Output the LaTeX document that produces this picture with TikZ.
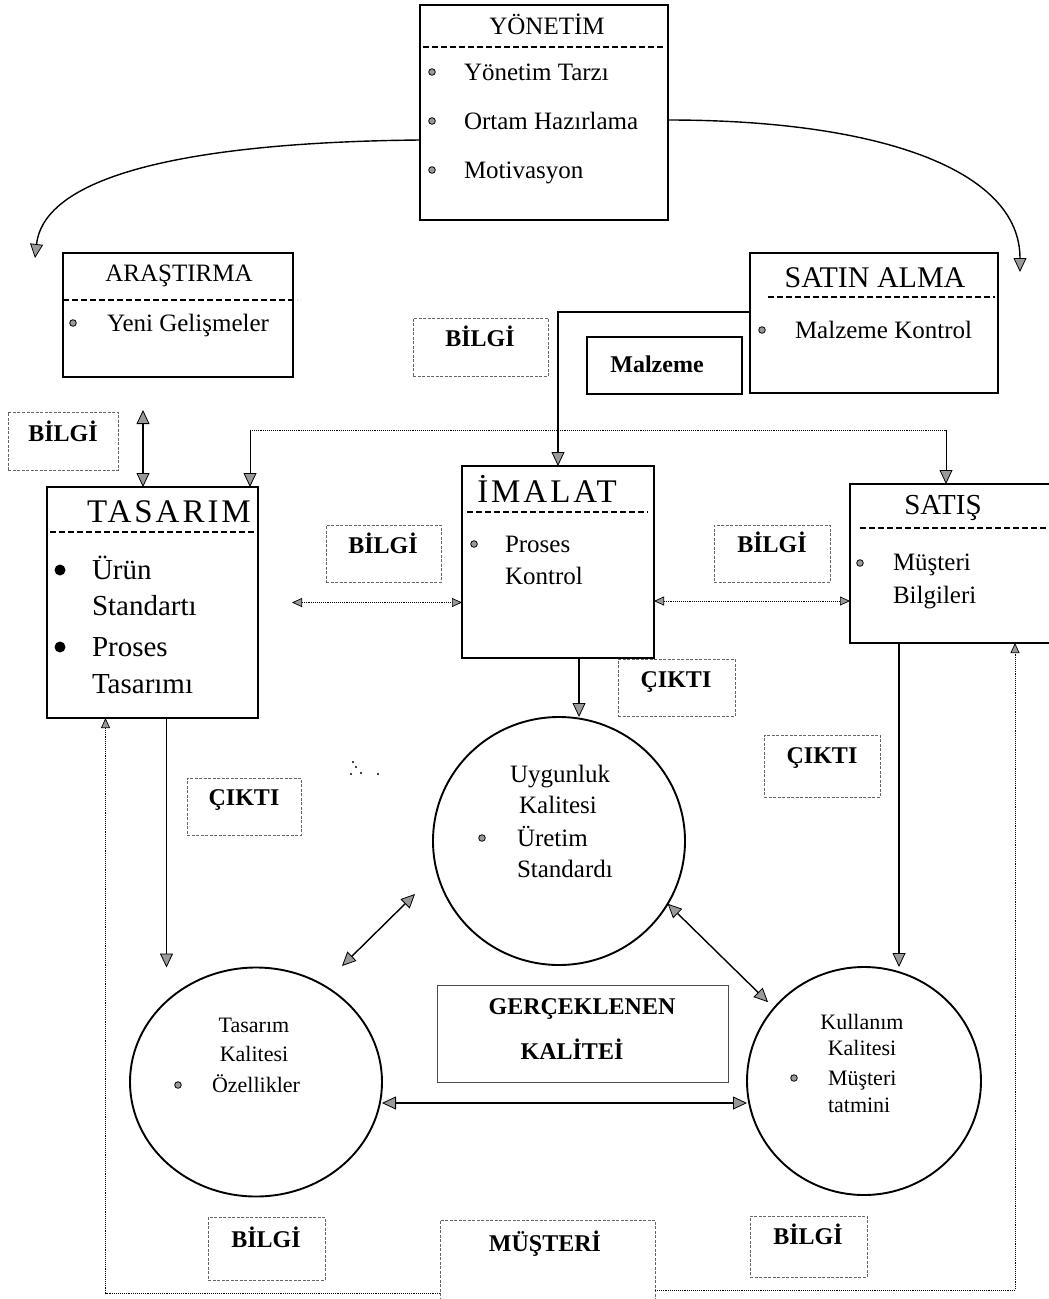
\documentclass[tikz,border=0pt]{standalone}
\usepackage{fontspec}
\setmainfont{Liberation Serif}
\newfontfamily\wideserif[LetterSpace=9]{Liberation Serif}
\usetikzlibrary{arrows.meta,shapes.geometric,calc}

\tikzset{
  unitbox/.style={draw, line width=2pt, inner sep=0pt, outer sep=0pt},
  labelbox/.style={draw=black!60, dash pattern=on 3pt off 1.5pt, line width=0.8pt, inner sep=0pt, outer sep=0pt},
  plainbox/.style={draw=black!70, line width=0.9pt, inner sep=0pt, outer sep=0pt},
  quality/.style={ellipse, draw, line width=1.9pt, inner sep=0pt, outer sep=0pt},
  sep/.style={line width=1.3pt, dash pattern=on 6pt off 3pt},
  bigtip/.tip={Triangle[length=14pt,width=13pt,fill=black!40,line width=0.8pt]},
  smalltip/.tip={Triangle[length=10pt,width=9pt,fill=black!40,line width=0.7pt]},
  flow/.style={line width=1.4pt, -bigtip},
  flowboth/.style={line width=1.4pt, bigtip-bigtip},
  infoline/.style={line width=0.9pt, densely dotted},
  infoboth/.style={line width=0.9pt, densely dotted, smalltip-smalltip},
  txt/.style={inner sep=0pt, outer sep=0pt},
  ttl/.style={txt, anchor=base},
  itm/.style={txt, anchor=base west},
  f22/.style={font=\fontsize{22}{22}\selectfont},
  f25/.style={font=\fontsize{25}{25}\selectfont},
  f29/.style={font=\fontsize{29}{29}\selectfont},
  f30/.style={font=\fontsize{30}{30}\selectfont},
  wide/.style={font=\wideserif\fontsize{33}{33}\selectfont},
  lab/.style={txt, anchor=base, font=\fontsize{24}{24}\selectfont\bfseries},
}

\begin{document}
\begin{tikzpicture}[x=1pt, y=-1pt]
\useasboundingbox (0,0) rectangle (1049,1299);
\fill[white] (0,0) rectangle (1049,1299);
\clip (0,0) rectangle (1049,1299);

% ---------- unit boxes ----------
\node[unitbox, minimum width=248pt, minimum height=215pt] (yon) at (544,112.5) {};
\node[unitbox, minimum width=230pt, minimum height=124pt] (aras) at (178,315) {};
\node[unitbox, minimum width=248pt, minimum height=140pt] (satin) at (874,323) {};
\node[unitbox, minimum width=211pt, minimum height=231pt] (tas) at (152.5,602.5) {};
\node[unitbox, minimum width=192pt, minimum height=192pt] (ima) at (558,562) {};
\node[unitbox, minimum width=220pt, minimum height=159pt] (sat) at (960,563.5) {};

% YÖNETİM
\node[ttl, f25] (yonT) at (547,34) {YÖNETİM};
\draw[sep] (423,47) -- (665,47);
\foreach \yy in {72,121,170} \filldraw[fill=black!40, line width=0.8pt] (432,\yy) circle (3.3pt);
\node[itm, f25] (yon1) at (464,80) {Yönetim Tarzı};
\node[itm, f25] (yon2) at (464,129) {Ortam Hazırlama};
\node[itm, f25] (yon3) at (464,178) {Motivasyon};

% ARAŞTIRMA
\node[ttl, f25] (arasT) at (179,281) {ARAŞTIRMA};
\draw[sep] (63,300) -- (297,300);
\filldraw[fill=black!40, line width=0.8pt] (73,323) circle (3.3pt);
\node[itm, f25] (aras1) at (107,331) {Yeni Gelişmeler};

% SATIN ALMA
\node[ttl, f30] (satinT) at (875,287) {SATIN ALMA};
\draw[sep] (768,297) -- (995,297);
\filldraw[fill=black!40, line width=0.8pt] (762,330) circle (3.3pt);
\node[itm, f25] (satin1) at (795,338) {Malzeme Kontrol};

% TASARIM
\node[ttl, wide] (tasT) at (169,522) {TASARIM};
\draw[sep] (50,532) -- (256,532);
\fill (60,570) circle (5.5pt);
\fill (60,647) circle (5.5pt);
\node[itm, f29] (tas1) at (92,579) {Ürün};
\node[itm, f29] (tas2) at (92,615) {Standartı};
\node[itm, f29] (tas3) at (92,656) {Proses};
\node[itm, f29] (tas4) at (92,693) {Tasarımı};

% İMALAT
\node[ttl, wide] (imaT) at (547,502) {İMALAT};
\draw[sep] (467,512) -- (648,512);
\filldraw[fill=black!40, line width=0.8pt] (474,544) circle (3.3pt);
\node[itm, f25] (ima1) at (505,552) {Proses};
\node[itm, f25] (ima2) at (505,584) {Kontrol};

% SATIŞ
\node[ttl, f29] (satT) at (943,514) {SATIŞ};
\draw[sep] (860,528) -- (1049,528);
\filldraw[fill=black!40, line width=0.8pt] (860,563) circle (3.3pt);
\node[itm, f25] (sat1) at (893,570) {Müşteri};
\node[itm, f25] (sat2) at (893,603) {Bilgileri};

% ---------- label boxes ----------
\node[labelbox, minimum width=135pt, minimum height=58pt] (bilgiA) at (480.5,347) {};
\node[lab] (bilgiAt) at (480,346.5) {BİLGİ};
\node[unitbox, line width=1.5pt, minimum width=155pt, minimum height=57pt] (malz) at (664.5,365.5) {};
\node[lab] (malzt) at (657,372) {Malzeme};
\node[labelbox, minimum width=110pt, minimum height=58pt] (bilgiB) at (63,441) {};
\node[lab] (bilgiBt) at (63,441) {BİLGİ};
\node[labelbox, minimum width=115pt, minimum height=57pt] (bilgiC) at (383.5,553.5) {};
\node[lab] (bilgiCt) at (383,553) {BİLGİ};
\node[labelbox, minimum width=116pt, minimum height=57pt] (bilgiD) at (772,553.5) {};
\node[lab] (bilgiDt) at (772,552) {BİLGİ};
\node[labelbox, minimum width=117pt, minimum height=57pt] (cikA) at (676.5,687.5) {};
\node[lab] (cikAt) at (676,687) {ÇIKTI};
\node[labelbox, minimum width=114pt, minimum height=57pt] (cikB) at (244,806.5) {};
\node[lab] (cikBt) at (244,805) {ÇIKTI};
\node[labelbox, minimum width=116pt, minimum height=62pt] (cikC) at (822,766) {};
\node[lab] (cikCt) at (822,763) {ÇIKTI};
\node[plainbox, minimum width=291pt, minimum height=97pt] (gerc) at (582.5,1033.5) {};
\node[lab] (gerc1) at (582,1014) {GERÇEKLENEN};
\node[lab] (gerc2) at (572,1059) {KALİTEİ};
\node[labelbox, minimum width=117pt, minimum height=63pt] (bilgiE) at (266.5,1248.5) {};
\node[lab] (bilgiEt) at (266,1247) {BİLGİ};
\node[labelbox, minimum width=117pt, minimum height=61pt] (bilgiF) at (808.5,1246.5) {};
\node[lab] (bilgiFt) at (808,1244) {BİLGİ};
\node[labelbox, minimum width=215pt, minimum height=100pt] (must) at (547.5,1270) {};
\node[lab] (mustt) at (545,1251) {MÜŞTERİ};

% ---------- quality circles ----------
\node[quality, minimum width=252pt, minimum height=248pt] (uyg) at (559,841) {};
\node[ttl, f25] (uyg1) at (560,782) {Uygunluk};
\node[ttl, f25] (uyg2) at (558,813) {Kalitesi};
\filldraw[fill=black!40, line width=0.8pt] (482,838) circle (3.3pt);
\node[itm, f25] (uyg3) at (517,846) {Üretim};
\node[itm, f25] (uyg4) at (517,877) {Standardı};

\node[quality, minimum width=252pt, minimum height=229pt] (tasK) at (256,1082) {};
\node[ttl, f22] (tasK1) at (254,1032) {Tasarım};
\node[ttl, f22] (tasK2) at (254,1061) {Kalitesi};
\filldraw[fill=black!40, line width=0.8pt] (178,1085) circle (3.3pt);
\node[itm, f22] (tasK3) at (212,1092) {Özellikler};

\node[quality, minimum width=234pt, minimum height=228pt] (kul) at (864,1081) {};
\node[ttl, f22] (kul1) at (862,1029) {Kullanım};
\node[ttl, f22] (kul2) at (862,1055) {Kalitesi};
\filldraw[fill=black!40, line width=0.8pt] (794,1078) circle (3.3pt);
\node[itm, f22] (kul3) at (828,1085) {Müşteri};
\node[itm, f22] (kul4) at (828,1112) {tatmini};

% ---------- connectors ----------
% management reaching out to both sides
\coordinate (yonL) at (35,258);
\coordinate (yonR) at (1020,272);
\draw[flow] ([yshift=-27.5pt]yon.west) .. controls (210,142) and (45,170) .. (yonL);
\draw[flow] ([yshift=-7.5pt]yon.east) .. controls (880,120) and (1020,170) .. (yonR);

% material flow from purchasing to manufacturing
\draw[flow] ([yshift=11pt]satin.west) -| (ima.north);

% information between research and design
\coordinate (arasTap) at (143,410);
\draw[flowboth] (arasTap) -- (arasTap |- tas.north);

% distribution line towards design and sales
\coordinate (hub) at (558,430);
\draw[infoline] ([xshift=97.5pt]tas.north |- hub) -- ([xshift=-14pt]sat.north |- hub);
\draw[flow, line width=1pt] ([xshift=97.5pt]tas.north |- hub) -- ([xshift=97.5pt]tas.north);
\draw[flow, line width=1pt] ([xshift=-14pt]sat.north |- hub) -- ([xshift=-14pt]sat.north);

% information between the three units
\draw[infoboth] ([xshift=34pt]tas.east) -- (ima.west |- tas.east);
\draw[infoboth] ([yshift=-39pt]ima.east) -- ([yshift=-39pt]ima.east -| sat.west);

% outputs into the quality circles
\draw[flow] ([xshift=21pt]ima.south) -- ([xshift=21pt]ima.south |- uyg.north);
\draw[flow] ([xshift=14pt]tas.south) -- ([xshift=14pt]tas.south |- tasK.north);
\draw[flow] ([xshift=-61pt]sat.south) -- ([xshift=-61pt]sat.south |- kul.north);

% links between the quality circles
\coordinate (d1a) at (342,966);
\coordinate (d1b) at (415,894);
\draw[flowboth] (d1a) -- (d1b);
\draw[flowboth] (uyg.-30) -- ([shift={(-6pt,6pt)}]kul.141);
\draw[flowboth] ([yshift=-21pt]tasK.east) -- ([yshift=-21pt]tasK.east -| kul.west);

% customer feedback loop
\draw[infoline, -smalltip] ([yshift=-23pt]must.west) -| ([xshift=-47pt]tas.south);
\draw[infoline, -smalltip] ([yshift=-20pt]must.east) -| ([xshift=55pt]sat.south);

% specks
\foreach \p in {(351,774),(356,767),(361,773),(378,774),(353,762)} \fill \p circle (1.2pt);
\end{tikzpicture}
\end{document}
